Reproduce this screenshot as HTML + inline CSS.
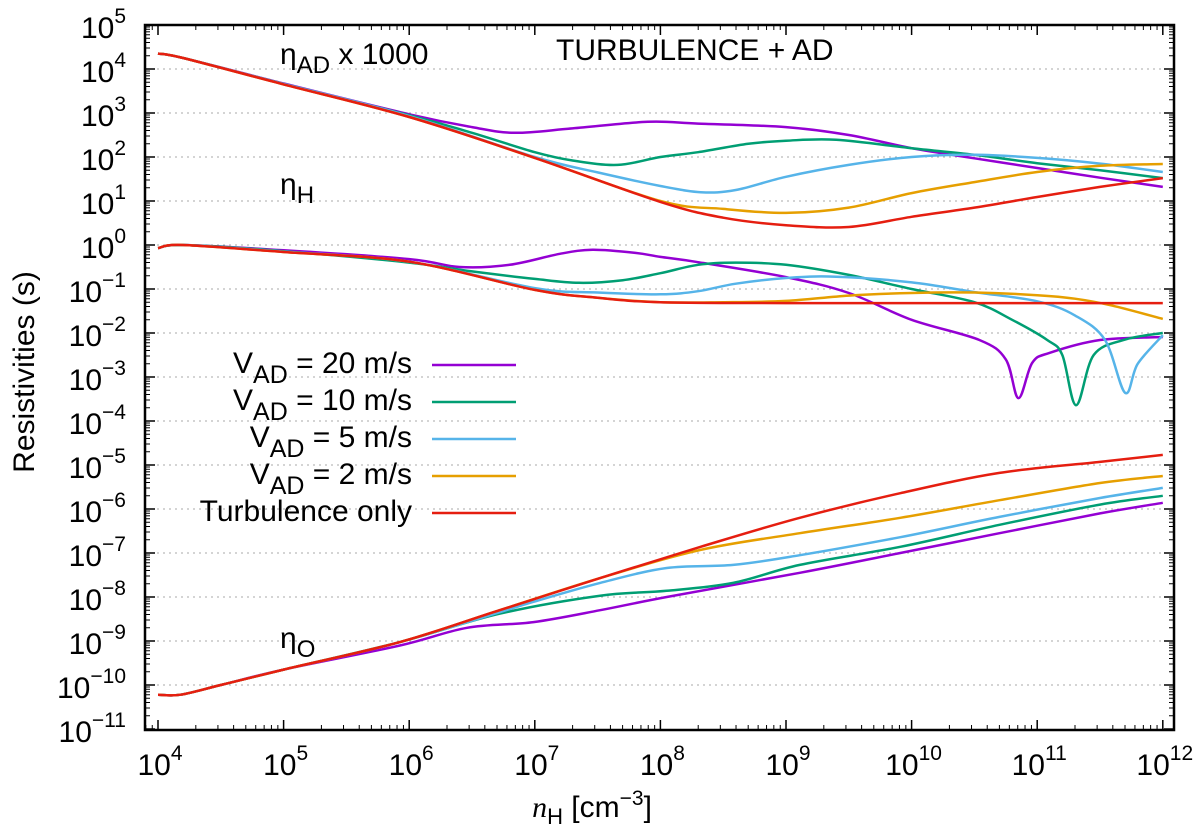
<!DOCTYPE html>
<html><head><meta charset="utf-8"><style>
body{margin:0;background:#fff;}
svg text{font-family:"Liberation Sans",sans-serif;fill:#000;}
</style></head><body>
<svg id="chart" width="1200" height="833" viewBox="0 0 1200 833" xmlns="http://www.w3.org/2000/svg">
<g id="grid"></g>
<g id="series"></g>
<g id="axes"></g>
<g id="legend"></g>
<text x="280" y="64" font-size="30">η<tspan font-size="24" dy="9">AD</tspan><tspan dy="-9"> x 1000</tspan></text>
<text x="280" y="194" font-size="30">η<tspan font-size="24" dy="9">H</tspan></text>
<text x="280" y="648" font-size="30">η<tspan font-size="24" dy="9">O</tspan></text>
<text x="556" y="60" font-size="30">TURBULENCE + AD</text>
<text transform="translate(34,372) rotate(-90)" text-anchor="middle" font-size="30">Resistivities (s)</text>
<text x="592" y="817" text-anchor="middle" font-size="30"><tspan font-family="Liberation Serif" font-style="italic">n</tspan><tspan font-size="22" dy="7">H</tspan><tspan dy="-7"> [cm</tspan><tspan font-size="21" dy="-12">−3</tspan><tspan dy="12">]</tspan></text>
</svg>
<script>
const xTicks=[4,5,6,7,8,9,10,11,12];
const yTicks=[5,4,3,2,1,0,-1,-2,-3,-4,-5,-6,-7,-8,-9,-10,-11];
const seriesNames=["V_AD = 20 m/s","V_AD = 10 m/s","V_AD = 5 m/s","V_AD = 2 m/s","Turbulence only"];
const seriesColors=["#9400d3","#009e73","#56b4e9","#e69f00","#e51e10"];
// AD (x1000), log10 values
const adX_purple=[4,4.2,5,6,6.5,6.84,7.3,7.9,8.3,9,9.5,10,10.5,11,11.5,12];
const adY_purple=[4.35,4.25,3.67,2.97,2.68,2.55,2.65,2.8,2.76,2.68,2.5,2.2,1.97,1.75,1.53,1.32];
const adX_green=[4,4.2,5,6,6.5,7,7.3,7.66,8,8.3,8.7,9,9.4,10,10.5,11,11.5,12];
const adY_green=[4.35,4.25,3.66,2.95,2.55,2.11,1.92,1.82,2.0,2.11,2.3,2.37,2.39,2.2,2.05,1.86,1.7,1.52];
const adX_blue=[4,4.2,5,6,7,7.5,8,8.32,8.6,9,9.5,10,10.5,11,11.5,12];
const adY_blue=[4.35,4.25,3.66,2.93,2.0,1.65,1.34,1.2,1.25,1.55,1.82,2.0,2.05,1.98,1.85,1.66];
const adX_orange=[4,4.2,5,6,7,8,8.5,9,9.5,10,10.5,11,11.5,12];
const adY_orange=[4.35,4.25,3.65,2.91,1.98,1.0,0.82,0.73,0.85,1.18,1.43,1.66,1.8,1.84];
const adX_red=[4,4.2,5,6,7,8,8.5,9,9.5,10,10.5,11,11.5,12];
const adY_red=[4.35,4.25,3.65,2.91,1.98,0.98,0.62,0.45,0.41,0.64,0.85,1.09,1.32,1.52];
// Hall
const hX_purple=[4,4.2,5,6,6.4,6.8,7.2,7.46,7.8,8,8.3,9,9.5,10,10.54,10.75,10.85,10.96,11.1,11.5,12];
const hY_purple=[-0.07,0,-0.12,-0.32,-0.5,-0.45,-0.2,-0.11,-0.18,-0.27,-0.39,-0.73,-1.09,-1.7,-2.16,-2.6,-3.48,-2.68,-2.45,-2.16,-2.09];
const hX_green=[4,4.2,5,6,6.5,7,7.35,7.7,8,8.3,8.6,9,9.5,10,10.5,10.8,11.08,11.2,11.31,11.45,11.7,12];
const hY_green=[-0.07,0,-0.14,-0.4,-0.6,-0.77,-0.86,-0.8,-0.64,-0.45,-0.4,-0.45,-0.68,-1.0,-1.3,-1.7,-2.16,-2.5,-3.64,-2.5,-2.15,-2.0];
const hX_blue=[4,4.2,5,6,7,7.5,8,8.3,8.6,9,9.4,10,10.5,11,11.3,11.54,11.7,11.8,12];
const hY_blue=[-0.07,0,-0.15,-0.38,-0.98,-1.08,-1.12,-1.05,-0.88,-0.75,-0.72,-0.85,-1.07,-1.28,-1.6,-2.16,-3.36,-2.7,-2.05];
const hX_orange=[4,4.2,5,6,7,7.5,8,8.5,9,9.5,10,10.5,11,11.3,11.6,12];
const hY_orange=[-0.07,0,-0.16,-0.38,-1.02,-1.2,-1.3,-1.3,-1.27,-1.15,-1.09,-1.08,-1.14,-1.22,-1.38,-1.68];
const hX_red=[4,4.2,5,6,7,7.5,8,9,10,11,12];
const hY_red=[-0.07,0,-0.16,-0.38,-1.02,-1.2,-1.3,-1.32,-1.32,-1.32,-1.32];
// Ohmic
const oX_purple=[4,4.18,4.5,5,5.93,6.46,6.99,7.52,8.05,9.11,9.91,10.7,11.5,12];
const oY_purple=[-10.22,-10.22,-10.0,-9.65,-9.1,-8.7,-8.57,-8.3,-8.0,-7.45,-7.0,-6.55,-6.1,-5.86];
const oX_green=[4,4.18,4.5,5,5.93,6.72,7.52,8.05,8.58,9.11,9.91,10.7,11.5,12];
const oY_green=[-10.22,-10.22,-10.0,-9.65,-9.02,-8.38,-7.97,-7.86,-7.68,-7.27,-6.86,-6.36,-5.9,-5.7];
const oX_blue=[4,4.18,4.5,5,5.93,6.99,7.52,8.05,8.58,9.11,9.91,10.7,11.5,12];
const oY_blue=[-10.22,-10.22,-10.0,-9.65,-9.02,-8.11,-7.68,-7.34,-7.27,-7.05,-6.64,-6.18,-5.75,-5.52];
const oX_orange=[4,4.18,4.5,5,5.93,6.72,7.52,8.32,9.11,9.91,10.7,11.5,12];
const oY_orange=[-10.22,-10.22,-10.0,-9.65,-9.02,-8.3,-7.57,-6.93,-6.55,-6.2,-5.8,-5.41,-5.25];
const oX_red=[4,4.18,4.5,5,5.93,6.72,7.52,8.32,9.11,9.91,10.7,11.5,12];
const oY_red=[-10.22,-10.22,-10.0,-9.65,-9.02,-8.3,-7.57,-6.86,-6.2,-5.64,-5.18,-4.93,-4.77];

const L=145,R=1174,T=25,B=730;
function sx(l){return 158+(l-4)*125.6;}
function sy(l){return T+(5-l)*44;}
const NS="http://www.w3.org/2000/svg";
function mk(tag,attrs,parent){const e=document.createElementNS(NS,tag);for(const k in attrs)e.setAttribute(k,attrs[k]);parent.appendChild(e);return e;}
const grid=document.getElementById('grid'),axes=document.getElementById('axes'),ser=document.getElementById('series'),leg=document.getElementById('legend');
yTicks.forEach(t=>{
  if(t<5&&t>-11){const g=mk('line',{x1:L,x2:R,y1:sy(t),y2:sy(t),stroke:'#aaa','stroke-dasharray':'2,4','stroke-width':1},grid);
  
  }
  const tx=mk('text',{x:126,y:sy(t)+13,'text-anchor':'end','font-size':30},axes);
  
  
  tx.innerHTML='10<tspan font-size="21" dy="-15">'+(t<0?'−'+(-t):t)+'</tspan>';
  mk('line',{x1:L,x2:L+10,y1:sy(t),y2:sy(t),stroke:'#000','stroke-width':1.5},axes);
  mk('line',{x1:R,x2:R-10,y1:sy(t),y2:sy(t),stroke:'#000','stroke-width':1.5},axes);
  if(t>-11)for(let m=2;m<10;m++){const y=sy(t-1+Math.log10(m));mk('line',{x1:L,x2:L+5,y1:y,y2:y,stroke:'#000'},axes);mk('line',{x1:R,x2:R-5,y1:y,y2:y,stroke:'#000'},axes);}
});
xTicks.forEach(t=>{
  const x=sx(t);
  mk('line',{x1:x,x2:x,y1:B,y2:B-10,stroke:'#000','stroke-width':1.5},axes);
  mk('line',{x1:x,x2:x,y1:T,y2:T+10,stroke:'#000','stroke-width':1.5},axes);
  const tx=mk('text',{x:x+2,y:775,'text-anchor':'middle','font-size':30},axes);
  
  
  tx.innerHTML='10<tspan font-size="21" dy="-15">'+t+'</tspan>';
  for(let m=2;m<10;m++){const xx=sx(t-1+Math.log10(m));if(xx<L||xx>R)continue;mk('line',{x1:xx,x2:xx,y1:B,y2:B-5,stroke:'#000'},axes);mk('line',{x1:xx,x2:xx,y1:T,y2:T+5,stroke:'#000'},axes);}
});
const fr=mk('rect',{x:L,y:T,width:R-L,height:B-T,fill:'none',stroke:'#000','stroke-width':2.5},axes);


function smoothPath(P){
  let d='M'+P[0][0].toFixed(1)+','+P[0][1].toFixed(1);
  for(let i=0;i<P.length-1;i++){
    const p0=P[i-1]||P[i],p1=P[i],p2=P[i+1],p3=P[i+2]||P[i+1];
    const k=1/6;
    const c1=[p1[0]+(p2[0]-p0[0])*k,p1[1]+(p2[1]-p0[1])*k];
    const c2=[p2[0]-(p3[0]-p1[0])*k,p2[1]-(p3[1]-p1[1])*k];
    d+=' C'+c1[0].toFixed(1)+','+c1[1].toFixed(1)+' '+c2[0].toFixed(1)+','+c2[1].toFixed(1)+' '+p2[0].toFixed(1)+','+p2[1].toFixed(1);
  }
  return d;
}
const keys=['purple','green','blue','orange','red'];
const groups={ad:[adX_purple,adY_purple,adX_green,adY_green,adX_blue,adY_blue,adX_orange,adY_orange,adX_red,adY_red],
hall:[hX_purple,hY_purple,hX_green,hY_green,hX_blue,hY_blue,hX_orange,hY_orange,hX_red,hY_red],
ohm:[oX_purple,oY_purple,oX_green,oY_green,oX_blue,oY_blue,oX_orange,oY_orange,oX_red,oY_red]};
for(const g in groups){const a=groups[g];
  for(let i=0;i<5;i++){const xs=a[2*i],ys=a[2*i+1];
    const pts=xs.map((v,j)=>[sx(v),sy(ys[j])]);
    const p=mk('path',{d:smoothPath(pts),fill:'none',stroke:seriesColors[i],'stroke-width':2.5,'stroke-linejoin':'round'},ser);
    
    
  }}
seriesNames.forEach((n,i)=>{
  const y=365+i*37;
  const t=mk('text',{x:412,y:y+8,'text-anchor':'end','font-size':30},leg);
  
  
  if(n.startsWith('V_AD'))t.innerHTML='V<tspan font-size="25" dy="10">AD</tspan><tspan dy="-10">'+n.slice(4)+'</tspan>';
  else t.textContent=n;
  const l=mk('line',{x1:432,x2:516,y1:y,y2:y,stroke:seriesColors[i],'stroke-width':2.5},leg);
  
  
});
</script>
</body></html>
